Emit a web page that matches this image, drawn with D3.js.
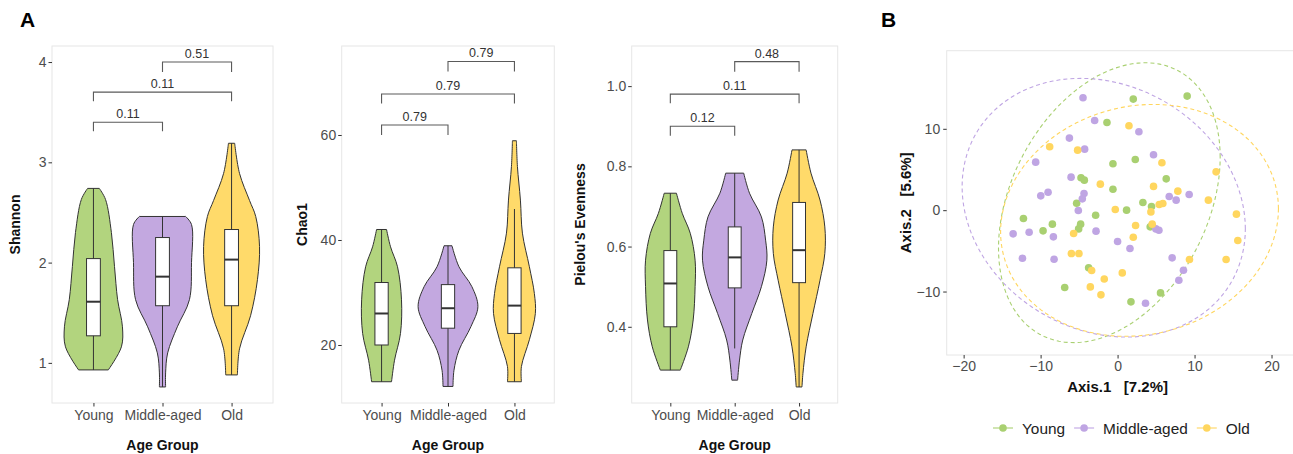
<!DOCTYPE html>
<html>
<head>
<meta charset="utf-8">
<script src="https://cdn.jsdelivr.net/npm/d3@7"></script>
<style>
  body { margin: 0; background: #fff; }
  text { font-family: "Liberation Sans", Arial, sans-serif; }
</style>
</head>
<body>
<div id="chart"></div>
<script>
// groups + palette
const groups = ["Young", "Middle-aged", "Old"];
const fillCols = ["#b2d47e", "#c3a8e0", "#ffda6a"];
const pointCols = ["#a9d071", "#bfa5e3", "#ffd65f"];

// ---- Shannon ----
// box: [min, q1, median, q3, max]
const shannonBox = [[0.93, 1.27, 1.61, 2.04, 2.74], [0.76, 1.57, 1.86, 2.25, 2.46], [0.88, 1.57, 2.03, 2.33, 3.19]];
// violin outline: [value, relative density]
const shannonYoung = [[0.93, .43], [1.16, .81], [1.36, .84], [1.63, .70], [1.96, .61], [2.30, .52], [2.63, .35], [2.74, .17]];
const shannonMiddle = [[0.76, .09], [0.9, .09], [1.1, .15], [1.36, .43], [1.63, .78], [2.0, .84], [2.38, .84], [2.46, .67]];
const shannonOld = [[0.88, .17], [1.14, .23], [1.47, .55], [1.83, .75], [2.16, .81], [2.46, .70], [2.62, .52], [2.89, .23], [3.19, .09]];
// significance: [group a, group b, bar value, tip value, p]
const shannonSig = [[0, 1, 3.40, 3.31, "0.11"], [0, 2, 3.70, 3.61, "0.11"], [1, 2, 4.00, 3.90, "0.51"]];
const shannonTicks = [1, 2, 3, 4];

// ---- Chao1 ----
const chaoBox = [[13, 20.0, 26.0, 31.9, 42], [12.1, 23.2, 27.0, 31.5, 38.9], [13, 22.2, 27.5, 34.7, 45.9]];
const chaoYoung = [[13, .30], [17.1, .39], [22.2, .57], [28.6, .60], [34.9, .48], [38.7, .27], [42, .15]];
const chaoMiddle = [[12.1, .15], [15.2, .18], [19, .33], [23.5, .69], [27.3, .90], [31.1, .72], [34.9, .33], [38.9, .12]];
const chaoOld = [[13, .21], [15.9, .21], [21, .45], [26, .63], [29.8, .60], [34.9, .45], [41.3, .24], [47.6, .18], [54, .09], [58.9, .06]];
const chaoSig = [[0, 1, 61.9, 60.0, "0.79"], [0, 2, 67.8, 66.0, "0.79"], [1, 2, 74.0, 72.1, "0.79"]];
const chaoTicks = [20, 40, 60];

// ---- Pielou ----
const pielouBox = [[0.292, 0.40, 0.508, 0.59, 0.733], [0.346, 0.497, 0.573, 0.649, 0.783], [0.25, 0.51, 0.591, 0.71, 0.841]];
const pielouYoung = [[0.292, .31], [0.35, .56], [0.417, .71], [0.50, .77], [0.566, .77], [0.633, .62], [0.683, .37], [0.733, .19]];
const pielouMiddle = [[0.267, .09], [0.317, .15], [0.367, .25], [0.433, .53], [0.50, .83], [0.566, 1.0], [0.616, .96], [0.674, .83], [0.733, .46], [0.783, .28]];
const pielouOld = [[0.25, .09], [0.284, .12], [0.35, .22], [0.433, .43], [0.516, .65], [0.583, .80], [0.649, .80], [0.716, .65], [0.783, .37], [0.841, .22]];
const pielouSig = [[0, 1, 0.90, 0.876, "0.12"], [0, 2, 0.98, 0.957, "0.11"], [1, 2, 1.061, 1.036, "0.48"]];
const pielouTicks = [0.4, 0.6, 0.8, 1.0];

// ---- PCoA ----
const youngPts = [[-1.38, 10.78], [-0.60, 5.70], [-4.75, 3.98], [-4.32, 3.69], [-0.60, 2.58], [-5.32, 0.86], [-2.85, -0.62],
  [-12.23, -1.02], [-8.47, -1.72], [-9.68, -2.54], [-4.80, -1.72], [-5.06, -2.30], [-3.76, -7.09], [-6.87, -9.51],
  [2.04, 13.65], [9.04, 14.02], [2.30, 6.23], [6.32, 3.85], [3.29, 0.94], [1.17, 0.0], [4.41, 0.45], [4.24, -2.05],
  [5.58, -10.17], [1.74, -11.27]];
const middlePts = [[-4.49, 13.81], [-2.98, 11.03], [-6.26, 8.86], [-4.28, 7.50], [-10.64, 5.90], [-6.04, 4.06], [-9.03, 2.21],
  [-9.98, 1.76], [-4.36, 2.05], [-4.58, 1.39], [-5.10, -0.04], [-13.57, -2.91], [-11.49, -2.71], [-8.34, -3.28],
  [-2.80, -2.58], [0.0, -3.85], [-12.36, -5.90], [-8.25, -6.03], [2.77, 9.63], [4.67, 6.81], [6.71, 1.68], [7.61, 1.23],
  [9.30, 1.93], [4.98, -2.30], [5.37, -2.46], [1.61, -4.71], [7.09, -5.86], [8.56, -7.38], [7.96, -8.61], [3.63, -11.44]];
const oldPts = [[-8.82, 7.79], [-5.19, 7.38], [-2.24, 3.20], [-0.30, 0.09], [-5.71, -2.87], [-6.00, -5.33], [-5.02, -5.33],
  [-3.37, -7.42], [-1.73, -8.45], [-3.54, -9.43], [-2.16, -10.41], [1.48, 10.37], [5.76, 5.82], [12.80, 4.71], [4.67, 2.92],
  [7.83, 2.34], [11.80, 1.23], [5.41, 0.70], [5.88, 0.82], [4.33, -0.21], [15.44, -0.49], [2.34, -1.88], [4.50, -1.72],
  [2.04, -3.32], [15.62, -3.73], [9.34, -6.07], [14.10, -6.07], [0.61, -7.71]];
// ellipse: [cx, cy, sx, sy, rho]
const ellipses = [[-1.07, 0.92, 14.4, 17.2, 0.325], [-1.8, 0.3, 18.4, 15.9, -0.163], [2.85, -1.25, 18.05, 14.25, 0.10]];
const pcoaXTicks = [-20, -10, 0, 10, 20];
const pcoaYTicks = [-10, 0, 10];

const width = 1293, height = 454;
const svg = d3.select("#chart").append("svg").attr("width", width).attr("height", height);

const styleAxis = (a) => {
  a.select(".domain").remove();
  a.selectAll(".tick line").attr("stroke", "#333");
  a.selectAll(".tick text").attr("fill", "#4d4d4d").attr("font-size", "14px")
    .style("font-family", "'Liberation Sans', Arial, sans-serif");
};

const drawViolinPanel = (opt) => {
  const x = d3.scalePoint().domain(groups).range([opt.left, opt.right]).padding(0.6);
  const y = d3.scaleLinear().domain(opt.domain).range([opt.bottom, opt.top]);
  const half = x.step() / 2;

  // panel border
  svg.append("rect")
    .attr("x", opt.left).attr("y", opt.top)
    .attr("width", opt.right - opt.left).attr("height", opt.bottom - opt.top)
    .attr("fill", "none").attr("stroke", "#e6e6e6").attr("stroke-width", 1);

  // axes
  const ay = svg.append("g")
    .attr("transform", "translate(" + opt.left + ",0)")
    .call(d3.axisLeft(y).tickValues(opt.ticks).tickFormat(opt.fmt).tickSizeOuter(0).tickSize(3.5).tickPadding(2));
  const ax = svg.append("g")
    .attr("transform", "translate(0," + opt.bottom + ")")
    .call(d3.axisBottom(x).tickSizeOuter(0).tickSize(3.5).tickPadding(4));
  styleAxis(ax);
  styleAxis(ay);

  // violins
  const area = d3.area()
    .curve(d3.curveCatmullRom)
    .y(d => y(d[0]));
  opt.dens.forEach((dens, i) => {
    const cx = x(groups[i]);
    svg.append("path")
      .datum(dens)
      .attr("d", area.x0(d => cx - d[1] * half).x1(d => cx + d[1] * half))
      .attr("fill", fillCols[i]).attr("stroke", "#333").attr("stroke-width", 1);
  });

  // whiskers + boxes
  const bw = x.step() * 0.2;
  opt.box.forEach((b, i) => {
    const cx = x(groups[i]);
    svg.append("line")
      .attr("x1", cx).attr("x2", cx).attr("y1", y(b[0])).attr("y2", y(b[4]))
      .attr("stroke", "#333").attr("stroke-width", 1);
    svg.append("rect")
      .attr("x", cx - bw / 2).attr("y", y(b[3]))
      .attr("width", bw).attr("height", y(b[1]) - y(b[3]))
      .attr("fill", "white").attr("stroke", "#333").attr("stroke-width", 1);
    svg.append("line")
      .attr("x1", cx - bw / 2).attr("x2", cx + bw / 2).attr("y1", y(b[2])).attr("y2", y(b[2]))
      .attr("stroke", "#333").attr("stroke-width", 2);
  });

  // significance brackets
  opt.sig.forEach(s => {
    const xa = x(groups[s[0]]), xb = x(groups[s[1]]);
    svg.append("path")
      .attr("d", "M" + xa + "," + y(s[3]) + "V" + y(s[2]) + "H" + xb + "V" + y(s[3]))
      .attr("fill", "none").attr("stroke", "#5a5a5a").attr("stroke-width", 1.1);
    svg.append("text")
      .attr("x", (xa + xb) / 2).attr("y", y(s[2]) - 4)
      .attr("text-anchor", "middle").attr("font-size", "12.5px").attr("fill", "#333")
      .text(s[4]);
  });

  // titles
  svg.append("text")
    .attr("x", (opt.left + opt.right) / 2).attr("y", 450)
    .attr("text-anchor", "middle").attr("font-size", "14px").attr("font-weight", "bold").attr("fill", "#111")
    .text("Age Group");
  svg.append("text")
    .attr("transform", "translate(" + opt.titleX + "," + (opt.top + opt.bottom) / 2 + ") rotate(-90)")
    .attr("text-anchor", "middle").attr("font-size", "14px").attr("font-weight", "bold").attr("fill", "#111")
    .text(opt.title);
};

drawViolinPanel({ left: 52, right: 273, top: 46, bottom: 403, domain: [0.6, 4.16], ticks: shannonTicks, fmt: d3.format("d"),
  dens: [shannonYoung, shannonMiddle, shannonOld], box: shannonBox, sig: shannonSig, title: "Shannon", titleX: 20 });
drawViolinPanel({ left: 341.7, right: 554.3, top: 46, bottom: 403, domain: [8.95, 76.95], ticks: chaoTicks, fmt: d3.format("d"),
  dens: [chaoYoung, chaoMiddle, chaoOld], box: chaoBox, sig: chaoSig, title: "Chao1", titleX: 306.5 });
drawViolinPanel({ left: 631.7, right: 837.7, top: 46, bottom: 403, domain: [0.21, 1.10], ticks: pielouTicks, fmt: d3.format(".1f"),
  dens: [pielouYoung, pielouMiddle, pielouOld], box: pielouBox, sig: pielouSig, title: "Pielou's Evenness", titleX: 585 });

// ---- PCoA panel ----
const pb = { left: 946.7, right: 1300, top: 50.7, bottom: 355 };
const px = d3.scaleLinear().domain([-22.2, 23.7]).range([pb.left, pb.right]);
const py = d3.scaleLinear().domain([-17.8, 19.6]).range([pb.bottom, pb.top]);

svg.append("rect")
  .attr("x", pb.left).attr("y", pb.top)
  .attr("width", pb.right - pb.left).attr("height", pb.bottom - pb.top)
  .attr("fill", "none").attr("stroke", "#e6e6e6").attr("stroke-width", 1);

const bx = svg.append("g").attr("transform", "translate(0," + pb.bottom + ")")
  .call(d3.axisBottom(px).tickValues(pcoaXTicks).tickSizeOuter(0).tickSize(3.5).tickPadding(3));
const by = svg.append("g").attr("transform", "translate(" + pb.left + ",0)")
  .call(d3.axisLeft(py).tickValues(pcoaYTicks).tickSizeOuter(0).tickSize(3.5).tickPadding(3));
styleAxis(bx);
styleAxis(by);

// ellipses (dashed)
const ell = d3.line().x(d => px(d[0])).y(d => py(d[1]));
ellipses.forEach((e, i) => {
  const pts = d3.range(0, 361, 3).map(deg => {
    const t = deg * Math.PI / 180;
    return [e[0] + e[2] * Math.cos(t), e[1] + e[3] * (e[4] * Math.cos(t) + Math.sqrt(1 - e[4] * e[4]) * Math.sin(t))];
  });
  svg.append("path")
    .datum(pts)
    .attr("d", ell)
    .attr("fill", "none").attr("stroke", pointCols[i]).attr("stroke-width", 1.1)
    .attr("stroke-dasharray", "4,3");
});

// points
[youngPts, middlePts, oldPts].forEach((set, i) => {
  svg.append("g")
    .selectAll("circle")
    .data(set)
    .enter()
    .append("circle")
    .attr("cx", d => px(d[0]))
    .attr("cy", d => py(d[1]))
    .attr("r", 3.8)
    .attr("fill", pointCols[i]);
});

svg.append("text")
  .attr("x", px(0)).attr("y", 392)
  .attr("text-anchor", "middle").attr("font-size", "15px").attr("font-weight", "bold").attr("fill", "#111")
  .style("white-space", "pre")
  .text("Axis.1   [7.2%]");
svg.append("text")
  .attr("transform", "translate(911," + (pb.top + pb.bottom) / 2 + ") rotate(-90)")
  .attr("text-anchor", "middle").attr("font-size", "15px").attr("font-weight", "bold").attr("fill", "#111")
  .style("white-space", "pre")
  .text("Axis.2   [5.6%]");

// legend
let lx = 993;
const ly = 428;
groups.forEach((g, i) => {
  svg.append("line").attr("x1", lx).attr("x2", lx + 20).attr("y1", ly).attr("y2", ly)
    .attr("stroke", pointCols[i]).attr("stroke-width", 1.1);
  svg.append("circle").attr("cx", lx + 10).attr("cy", ly).attr("r", 3.8).attr("fill", pointCols[i]);
  const t = svg.append("text").attr("x", lx + 29).attr("y", ly + 5.5)
    .attr("font-size", "15.4px").attr("fill", "#222").text(g);
  lx = lx + 29 + t.node().getComputedTextLength() + 9;
});

// panel tags
svg.append("text").attr("x", 20).attr("y", 27).attr("font-size", "21px").attr("font-weight", "bold").attr("fill", "#000").text("A");
svg.append("text").attr("x", 881).attr("y", 27).attr("font-size", "21px").attr("font-weight", "bold").attr("fill", "#000").text("B");
</script>
</body>
</html>
